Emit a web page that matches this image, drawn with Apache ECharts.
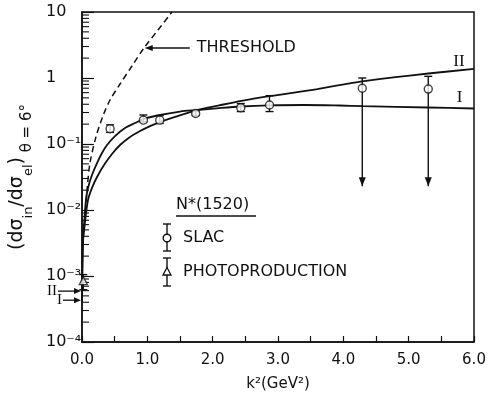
<!DOCTYPE html>
<html>
<head>
<meta charset="utf-8">
<script src="https://cdn.jsdelivr.net/npm/echarts@6.0.0/dist/echarts.min.js"></script>
<style>
  html, body { margin: 0; padding: 0; background: #fff; }
  #chart { width: 497px; height: 397px; }
</style>
</head>
<body>
<div id="chart"></div>
<script>
// ── Data ────────────────────────────────────────────────────────────────
// SLAC N*(1520) points: k^2 (GeV^2), ratio, error bar top / bottom, upper-limit arrow
const k2Slac     = [0.43, 0.94, 1.19, 1.74, 2.43, 2.87, 4.29, 5.30];
const ratioSlac  = [0.17, 0.23, 0.23, 0.29, 0.355, 0.39, 0.70, 0.68];
const slacHi     = [0.195, 0.275, 0.27, 0.31, 0.41, 0.54, 1.0, 1.06];
const slacLo     = [0.15, 0.215, 0.205, 0.27, 0.31, 0.31, 0.023, 0.023];
const slacArrow  = [0, 0, 0, 0, 0, 0, 1, 1];

// photoproduction point at k^2 ~ 0
const k2Photo    = [0.02];
const ratioPhoto = [8.5e-4];
const photoHi    = [1.05e-3];
const photoLo    = [6.2e-4];

// theory curve I (flattens out)
const curveIk2 = [0, 0.015, 0.031, 0.061, 0.092, 0.153, 0.23, 0.306, 0.383, 0.505, 0.658, 0.811, 0.964, 1.194, 1.5, 1.76, 2.1, 2.43, 2.87, 3.4, 3.94, 4.3, 5.3, 6.0];
const curveI   = [4.3e-4, 0.0035, 0.0059, 0.0142, 0.0216, 0.0339, 0.0515, 0.0731, 0.0966, 0.132, 0.175, 0.208, 0.243, 0.275, 0.31, 0.327, 0.35, 0.37, 0.385, 0.39, 0.383, 0.375, 0.357, 0.345];

// theory curve II (keeps rising)
const curveIIk2 = [0, 0.015, 0.046, 0.092, 0.153, 0.23, 0.337, 0.459, 0.582, 0.735, 0.888, 1.041, 1.194, 1.424, 1.76, 2.1, 2.44, 2.87, 3.17, 3.6, 4.1, 4.29, 4.8, 5.3, 6.0];
const curveII   = [5.9e-4, 0.0032, 0.0066, 0.0142, 0.0216, 0.0316, 0.048, 0.0705, 0.0966, 0.128, 0.157, 0.187, 0.215, 0.257, 0.327, 0.385, 0.45, 0.53, 0.585, 0.68, 0.83, 0.89, 1.03, 1.17, 1.37];

// threshold (dashed)
const threshK2 = [0.031, 0.046, 0.077, 0.122, 0.214, 0.321, 0.429, 0.582, 0.765, 0.949, 1.163, 1.378];
const thresh   = [0.0047, 0.0078, 0.0201, 0.0515, 0.128, 0.266, 0.464, 0.811, 1.52, 2.85, 5.34, 10];

// values of curves at k^2 = 0 (arrows on the axis)
const zeroLabels = ['II', 'I'];
const zeroValues = [5.9e-4, 4.3e-4];

// ── Styles ──────────────────────────────────────────────────────────────
const ink = '#111';
const font = 'DejaVu Sans';
const sup = { '-': '⁻', '1': '¹', '2': '²', '3': '³', '4': '⁴' };

const pairs = (xs, ys) => xs.map((x, i) => [x, ys[i]]);

// log minor ticks 2..9 in each decade
const minorY = [];
for (let e = -4; e < 1; e++) for (let m = 2; m <= 9; m++) minorY.push([0, m * Math.pow(10, e)]);

function errRender(params, api) {
  const x = api.value(0);
  const top = api.coord([x, api.value(2)]);
  const bot = api.coord([x, api.value(3)]);
  const arrow = api.value(4);
  const st = { stroke: ink, lineWidth: 1.4, fill: null };
  const c = 4;
  const kids = [
    { type: 'line', shape: { x1: top[0], y1: top[1], x2: bot[0], y2: bot[1] }, style: st },
    { type: 'line', shape: { x1: top[0] - c, y1: top[1], x2: top[0] + c, y2: top[1] }, style: st }
  ];
  if (arrow) {
    kids.push({ type: 'polygon', shape: { points: [[bot[0] - 3.5, bot[1] - 9], [bot[0] + 3.5, bot[1] - 9], [bot[0], bot[1]]] }, style: { fill: ink } });
  } else {
    kids.push({ type: 'line', shape: { x1: bot[0] - c, y1: bot[1], x2: bot[0] + c, y2: bot[1] }, style: st });
  }
  return { type: 'group', children: kids };
}

const chart = echarts.init(document.getElementById('chart'), null, { renderer: 'canvas' });

chart.setOption({
  animation: false,
  backgroundColor: '#fff',
  textStyle: { fontFamily: font, color: ink },
  grid: {
    left: 82, right: 23, top: 12, bottom: 55, show: true, borderColor: ink, borderWidth: 1.5,
    containLabel: false, outerBoundsMode: 'none'
  },
  xAxis: {
    type: 'value', min: 0, max: 6, interval: 1,
    name: 'k²(GeV²)', nameLocation: 'middle', nameGap: 35,
    nameTextStyle: { fontSize: 15, color: ink, fontFamily: font },
    axisLine: { lineStyle: { color: ink, width: 1.5 } },
    axisTick: { inside: true, length: 6, lineStyle: { color: ink, width: 1.2 } },
    minorTick: { show: true, splitNumber: 2, length: 6, lineStyle: { color: ink, width: 1.2 } },
    splitLine: { show: false },
    axisLabel: { fontSize: 15, color: ink, margin: 11, formatter: v => v.toFixed(1) }
  },
  yAxis: {
    type: 'log', logBase: 10, min: 1e-4, max: 10, splitNumber: 5,
    name: '{m|(dσ}{s|in}{m|/dσ}{s|el}{m|)}{t| θ = 6°}',
    nameLocation: 'middle', nameRotate: 90, nameGap: 43,
    nameTextStyle: {
      color: ink,
      rich: {
        m: { fontSize: 19, fontFamily: font, color: ink, lineHeight: 28, verticalAlign: 'top' },
        s: { fontSize: 13, fontFamily: font, color: ink, lineHeight: 16, verticalAlign: 'bottom' },
        t: { fontSize: 15, fontFamily: font, color: ink, lineHeight: 18, verticalAlign: 'bottom' }
      }
    },
    axisLine: { lineStyle: { color: ink, width: 1.5 } },
    axisTick: { inside: true, length: 12, lineStyle: { color: ink, width: 1.2 } },
    splitLine: { show: false },
    axisLabel: {
      fontSize: 16, color: ink, align: 'left', margin: 36, showMinLabel: true, showMaxLabel: true,
      formatter: v => {
        const e = Math.round(Math.log10(v));
        if (e === 1) return '10';
        if (e === 0) return '1';
        return '10' + String(e).split('').map(ch => sup[ch]).join('');
      }
    }
  },
  graphic: [
    // legend block
    { type: 'text', left: 176, top: 197, style: { text: 'N*(1520)', font: '16px "DejaVu Sans"', fill: ink } },
    { type: 'line', shape: { x1: 176, y1: 216, x2: 256, y2: 216 }, style: { stroke: ink, lineWidth: 1.3 } },
    { type: 'line', shape: { x1: 167, y1: 224, x2: 167, y2: 251 }, style: { stroke: ink, lineWidth: 1.4 } },
    { type: 'line', shape: { x1: 163, y1: 224, x2: 171, y2: 224 }, style: { stroke: ink, lineWidth: 1.4 } },
    { type: 'line', shape: { x1: 163, y1: 251, x2: 171, y2: 251 }, style: { stroke: ink, lineWidth: 1.4 } },
    { type: 'circle', shape: { cx: 167, cy: 238, r: 3.8 }, style: { fill: '#fff', stroke: ink, lineWidth: 1.4 } },
    { type: 'text', left: 183, top: 230, style: { text: 'SLAC', font: '16px "DejaVu Sans"', fill: ink } },
    { type: 'line', shape: { x1: 167, y1: 258, x2: 167, y2: 286 }, style: { stroke: ink, lineWidth: 1.4 } },
    { type: 'line', shape: { x1: 163, y1: 258, x2: 171, y2: 258 }, style: { stroke: ink, lineWidth: 1.4 } },
    { type: 'line', shape: { x1: 163, y1: 286, x2: 171, y2: 286 }, style: { stroke: ink, lineWidth: 1.4 } },
    { type: 'polygon', shape: { points: [[167, 267.5], [171, 275], [163, 275]] }, style: { fill: '#fff', stroke: ink, lineWidth: 1.3 } },
    { type: 'text', left: 183, top: 264, style: { text: 'PHOTOPRODUCTION', font: '16px "DejaVu Sans"', fill: ink } }
  ],
  series: [
    {
      name: 'minor ticks', type: 'custom', silent: true, clip: false,
      data: minorY,
      renderItem: (params, api) => {
        const p = api.coord([api.value(0), api.value(1)]);
        return { type: 'line', shape: { x1: p[0], y1: p[1], x2: p[0] + 7, y2: p[1] }, style: { stroke: ink, lineWidth: 1.1 } };
      }
    },
    {
      name: 'Threshold', type: 'line', data: pairs(threshK2, thresh), showSymbol: false, smooth: 0.3,
      lineStyle: { color: ink, width: 1.5, type: [6, 4] }, silent: true
    },
    {
      name: 'I', type: 'line', data: pairs(curveIk2, curveI), showSymbol: false, smooth: 0.3,
      lineStyle: { color: ink, width: 1.8 }, silent: true
    },
    {
      name: 'II', type: 'line', data: pairs(curveIIk2, curveII), showSymbol: false, smooth: 0.3,
      lineStyle: { color: ink, width: 1.8 }, silent: true
    },
    {
      name: 'SLAC errors', type: 'custom', silent: true, clip: false,
      encode: { x: 0, y: 1 },
      data: k2Slac.map((k, i) => [k, ratioSlac[i], slacHi[i], slacLo[i], slacArrow[i]]),
      renderItem: errRender
    },
    {
      name: 'Photo errors', type: 'custom', silent: true, clip: false,
      encode: { x: 0, y: 1 },
      data: k2Photo.map((k, i) => [k, ratioPhoto[i], photoHi[i], photoLo[i], 0]),
      renderItem: errRender
    },
    {
      name: 'SLAC', type: 'scatter', data: pairs(k2Slac, ratioSlac), symbol: 'circle', symbolSize: 8,
      itemStyle: { color: '#fff', borderColor: ink, borderWidth: 1.4 }, silent: true, z: 5
    },
    {
      name: 'Photoproduction', type: 'scatter', data: pairs(k2Photo, ratioPhoto), symbol: 'triangle', symbolSize: 8,
      itemStyle: { color: '#fff', borderColor: ink, borderWidth: 1.3 }, silent: true, z: 5
    },
    {
      // k^2 = 0 values of curves I and II, arrows pointing at the axis
      name: 'zero arrows', type: 'custom', silent: true, clip: false,
      data: zeroValues.map(v => [0, v]),
      renderItem: (params, api) => {
        const p = api.coord([api.value(0), api.value(1)]);
        const len = params.dataIndex === 0 ? 24 : 19;
        return {
          type: 'group', children: [
            { type: 'line', shape: { x1: p[0] - len, y1: p[1], x2: p[0] - 6, y2: p[1] }, style: { stroke: ink, lineWidth: 1.3 } },
            { type: 'polygon', shape: { points: [[p[0] - 8, p[1] - 3], [p[0] - 8, p[1] + 3], [p[0] - 1, p[1]]] }, style: { fill: ink } },
            { type: 'text', x: p[0] - len - 1, y: p[1], style: { text: zeroLabels[params.dataIndex], font: '15px "Liberation Serif"', fill: ink, align: 'right', verticalAlign: 'middle' } }
          ]
        };
      }
    },
    {
      // curve labels and threshold note
      name: 'notes', type: 'custom', silent: true, clip: false,
      data: [[5.77, 1.75], [5.78, 0.5], [1.65, 2.85]],
      renderItem: (params, api) => {
        const p = api.coord([api.value(0), api.value(1)]);
        const i = params.dataIndex;
        if (i < 2) {
          return { type: 'text', x: p[0], y: p[1], style: { text: i === 0 ? 'II' : 'I', font: '17px "Liberation Serif"', fill: ink, align: 'center', verticalAlign: 'middle' } };
        }
        const tip = api.coord([0.96, api.value(1)]);
        return {
          type: 'group', children: [
            { type: 'line', shape: { x1: p[0], y1: p[1], x2: tip[0] + 6, y2: tip[1] }, style: { stroke: ink, lineWidth: 1.3 } },
            { type: 'polygon', shape: { points: [[tip[0] + 8, tip[1] - 3], [tip[0] + 8, tip[1] + 3], [tip[0], tip[1]]] }, style: { fill: ink } },
            { type: 'text', x: p[0] + 7, y: p[1], style: { text: 'THRESHOLD', font: '16px "DejaVu Sans"', fill: ink, align: 'left', verticalAlign: 'middle' } }
          ]
        };
      }
    }
  ]
});
</script>
</body>
</html>
